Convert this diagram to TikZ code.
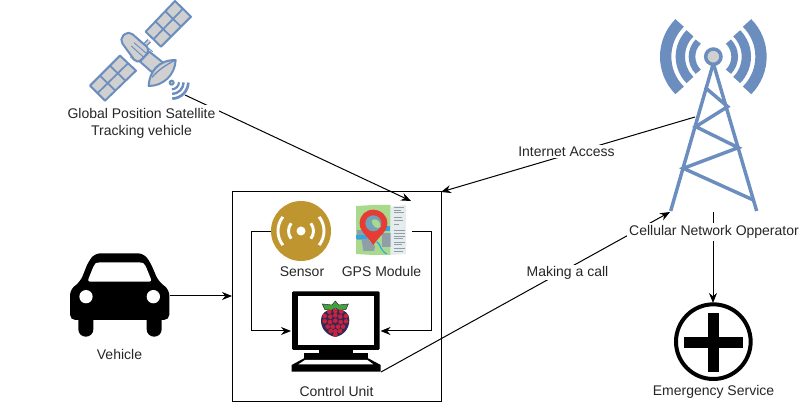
\documentclass[tikz,border=0pt]{standalone}
\usepackage{fontspec}
\setmainfont{Liberation Sans}
\usetikzlibrary{arrows.meta}
\definecolor{iconblue}{HTML}{6C8EBF}
\definecolor{icongrey}{HTML}{D0D0D0}
\definecolor{gold}{HTML}{BF9530}
\definecolor{berry}{HTML}{C8223F}
\definecolor{berrydark}{HTML}{2F2A55}
\definecolor{leaf}{HTML}{3FA535}
\definecolor{pinred}{HTML}{E53C35}
\definecolor{mapgreen}{HTML}{A9D98C}
\definecolor{mapgrey}{HTML}{8F9FA8}
\definecolor{mapblue}{HTML}{2EA8E0}
\definecolor{mappage}{HTML}{E6ECEE}
\tikzset{
  lbl/.style={font=\fontsize{10.5}{12.7}\selectfont,align=center,inner sep=1pt,text=black!85},
  lblbg/.style={lbl,fill=white},
  conn/.style={draw=black,line width=0.75pt},
  arr/.style={conn,-{Stealth[length=7.5pt,width=6pt]}},
  zoomA/.style={shift={(60,0)},scale=1/3},
  zoomB/.style={shift={(630,0)},scale=1/3},
  zoomC/.style={shift={(230,190)},scale=1/3},
  zoomD/.style={shift={(60,245)},scale=1/3},
  zoomE/.style={shift={(640,290)},scale=1/3},
  sat/.style={draw=iconblue,fill=icongrey,line width=1.5pt,line join=round},
  tower/.style={draw=iconblue,line width=2.6pt,line cap=butt},
}
\begin{document}
\begin{tikzpicture}[x=0.75pt,y=-0.75pt]
\useasboundingbox (0,0) rectangle (810,402);

% named anchors of connectors
\coordinate (satout) at (185,95);
\coordinate (boxin) at (411,201);
\coordinate (towerout) at (695,117);
\coordinate (boxcorner) at (441,192);
\coordinate (monout) at (381,372);
\coordinate (towerin) at (670,212);
\coordinate (towerbase) at (713,212);
\coordinate (emtop) at (713,303);
\coordinate (carout) at (170,296);
\coordinate (boxleft) at (232,296);
\coordinate (sensorout) at (271,231.5);
\coordinate (sensorbend) at (251.5,231.5);
\coordinate (monleft) at (291,331);
\coordinate (gpsout) at (412,231.5);
\coordinate (gpsbend) at (431.5,231.5);
\coordinate (monright) at (380.5,331);

% control unit box
\node[draw=black,line width=0.75pt,minimum width=157pt,minimum height=157.5pt,inner sep=0pt,anchor=north west] (box) at (232,191) {};

% connectors
\draw[arr] (satout) -- (boxin);
\draw[arr] (towerout) -- (boxcorner);
\draw[arr] (monout) -- (towerin);
\draw[arr] (towerbase) -- (emtop);
\draw[arr] (carout) -- (boxleft);
\draw[arr] (sensorout) -- (sensorbend) -- (sensorbend |- monleft) -- (monleft);
\draw[arr] (gpsout) -- (gpsbend) -- (gpsbend |- monright) -- (monright);

% satellite
\begin{scope}[zoomA]
  \draw[iconblue,line width=3.5pt] (268,122) -- (215,176);
  \draw[icongrey,line width=1.5pt] (268,122) -- (215,176);
  \draw[sat] (345,3) -- (393,50) -- (303,140) -- (257,95) -- cycle;
  \draw[iconblue,line width=1.3pt] (369,26) -- (280,118) (315,33) -- (363,80) (286,64) -- (333,110);
  \draw[sat] (180,167) -- (228,212) -- (135,302) -- (90,257) -- cycle;
  \draw[iconblue,line width=1.3pt] (204,190) -- (112,280) (150,197) -- (197,243) (120,227) -- (166,272);
  \draw[sat,rounded corners=4pt] (178,118) -- (205,92) -- (272,150) -- (232,192) -- cycle;
  \draw[iconblue,line width=0.7pt] (232,118) -- (278,155) (222,128) -- (268,168) (214,138) -- (258,178);
  \draw[sat] (268,155) -- (312,190) -- (282,222) -- (240,185) -- cycle;
  \draw[sat] (347,180) .. controls (295,180) and (268,215) .. (266,258) .. controls (310,258) and (345,225) .. (347,180) -- cycle;
  \draw[iconblue,line width=1pt] (347,180) .. controls (315,195) and (290,215) .. (276,232);
  \draw[sat] (335,248) circle[radius=6];
  \foreach \r/\w in {22/1.6,36/1.8,50/2.0}
    \draw[iconblue,line width=\w pt] (335,246) ++(2:\r) arc[start angle=2,end angle=88,radius=\r];
\end{scope}

% tower
\begin{scope}[zoomB]
  \foreach \r/\w in {64/5,99/7,143/8.5}{
    \draw[iconblue,line width=\w pt] (250,170) ++(-45:\r) arc[start angle=-45,end angle=45,radius=\r];
    \draw[iconblue,line width=\w pt] (250,170) ++(135:\r) arc[start angle=135,end angle=225,radius=\r];
  }
  \draw[tower] (250,190) -- (122,633);
  \draw[tower] (250,190) -- (380,633);
  \draw[tower] (225,262) -- (293,320) -- (197,380) -- (325,443) -- (160,505) -- (370,600);
  \draw[iconblue,fill=icongrey,line width=2.6pt] (250,170) circle[radius=23];
\end{scope}

% car
\begin{scope}[zoomD]
  \fill[black,rounded corners=4pt] (30,225) -- (30,135) -- (62,108) -- (85,50) -- (105,25) -- (250,25) -- (270,50) -- (295,108) -- (328,135) -- (328,225) -- cycle;
  \fill[black,rounded corners=5.5pt] (55,200) rectangle (100,275);
  \fill[black,rounded corners=5.5pt] (260,200) rectangle (305,275);
  \fill[white,rounded corners=2pt] (82,110) -- (103,58) -- (112,52) -- (245,52) -- (255,58) -- (276,110) -- cycle;
  \fill[white] (78,155) circle[radius=20] (280,155) circle[radius=20];
\end{scope}

% sensor
\node[circle,fill=gold,minimum size=45pt,inner sep=0pt] (sensor) at (301,231) {};
\begin{scope}[shift={(301,231)}]
  \fill[white] (0,0) circle[radius=4.5];
  \foreach \r in {12.5,23}{
    \draw[white,line width=2.2pt] (-38:\r) arc[start angle=-38,end angle=38,radius=\r];
    \draw[white,line width=2.2pt] (142:\r) arc[start angle=142,end angle=218,radius=\r];
  }
\end{scope}

% GPS map
\begin{scope}[zoomC]
  \fill[mapgreen] (378,48) -- (430,45) -- (482,45) -- (482,195) -- (430,195) -- (378,192) -- cycle;
  \fill[mapgrey] (380,120) rectangle (425,150);
  \fill[mapgrey] (395,150) .. controls (405,145) and (430,150) .. (435,170) -- (432,183) -- (400,183) -- cycle;
  \fill[mapblue] (378,135) -- (410,135) -- (410,148) -- (378,148) -- cycle;
  \fill[mapblue] (412,108) -- (480,108) -- (480,122) -- (412,122) -- cycle;
  \draw[mapblue,line width=0.9pt] (440,155) .. controls (455,165) and (445,175) .. (470,192);
  \fill[mapgrey] (455,130) rectangle (482,170);
  \fill[mappage] (482,50) -- (528,45) -- (528,192) -- (482,195) -- cycle;
  \foreach \y/\a in {52/522,60/512,68/522,82/515,92/520,102/508,122/524,130/524,138/524,146/520,156/524,164/516,176/524,184/518}
    \draw[mapgrey,line width=0.6pt] (492,\y) -- (\a,\y);
  \fill[pinred] (430,165) .. controls (410,135) and (389,125) .. (389,100) .. controls (389,75) and (408,59) .. (430,59) .. controls (452,59) and (472,75) .. (472,100) .. controls (472,125) and (450,135) .. (430,165) -- cycle;
  \fill[mapgrey!70!mapblue] (430,100) circle[radius=24];
  \fill[mapgreen] (425,92) .. controls (435,82) and (450,90) .. (452,110) .. controls (440,122) and (425,105) .. (425,92) -- cycle;
\end{scope}

% monitor
\begin{scope}[zoomC]
  \fill[black,rounded corners=1pt] (186,304) rectangle (449,480);
  \fill[white] (203,318) rectangle (432,465);
  \fill[black] (268,480) rectangle (368,490);
  \fill[black] (222,490) rectangle (415,510);
  \fill[black] (222,505) -- (415,505) -- (452,525) -- (452,545) -- (185,545) -- (185,525) -- cycle;
  \fill[white] (225,510) -- (412,510) -- (430,523) -- (205,523) -- cycle;
  % raspberry
  \fill[berrydark] (316,441) .. controls (290,436) and (272,415) .. (273,390) .. controls (273,372) and (285,358) .. (316,358) .. controls (347,358) and (358,372) .. (358,390) .. controls (358,415) and (342,436) .. (316,441) -- cycle;
  \fill[leaf,draw=berrydark,line width=0.4pt] (316,333) -- (326,345) -- (355,342) -- (348,358) -- (330,362) -- (316,354) -- (302,362) -- (284,358) -- (277,342) -- (306,345) -- cycle;
  \foreach \x/\y in {298/365,316/363,334/365,284/378,301/380,316/376,331/380,348/378,284/394,300/396,316/392,332/396,348/394,293/410,308/410,324/410,339/410,302/423,316/424,330/423,316/434}
    \fill[berry] (\x,\y) circle[radius=7];
\end{scope}

% emergency
\begin{scope}[zoomE]
  \draw[black,line width=3pt,fill=white] (220,155) circle[radius=112];
  \fill[black] (203,70) rectangle (238,245);
  \fill[black] (133,140) rectangle (308,175);
\end{scope}

% labels
\node[lblbg,inner xsep=3pt,inner ysep=2pt] (satlabel) at (141.5,123) {Global Position Satellite\\Tracking vehicle};
\node[lblbg] (net) at (566.5,151.5) {Internet Access};
\node[lblbg] (call) at (567.5,272.5) {Making a call};
\node[lblbg,inner sep=1.5pt] (cell) at (714,232) {Cellular Network Opperator};
\node[lbl] (veh) at (119.5,354) {Vehicle};
\node[lbl] (senlbl) at (302,271.5) {Sensor};
\node[lbl] (gpslbl) at (381.5,271.5) {GPS Module};
\node[lbl] (cu) at (336.5,391) {Control Unit};
\node[lbl] (em) at (713.5,392) {Emergency Service};
\end{tikzpicture}
\end{document}
